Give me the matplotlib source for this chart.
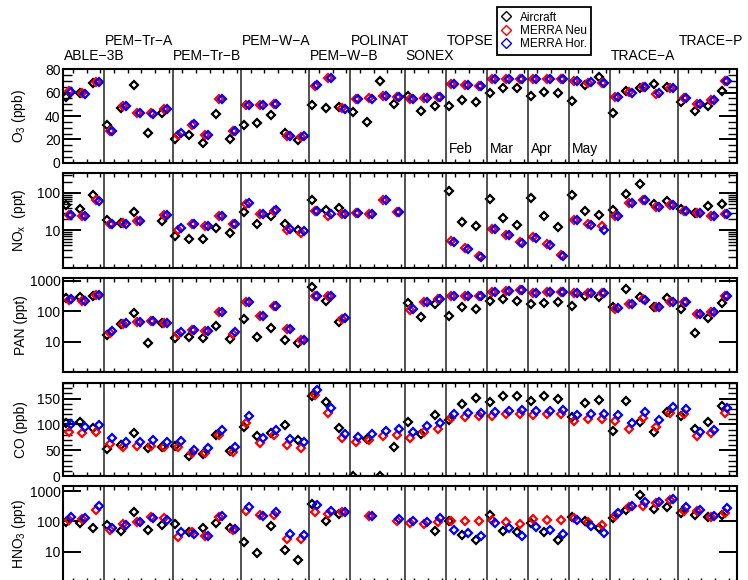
import numpy as np
import matplotlib
matplotlib.use('Agg')
import matplotlib.pyplot as plt
from matplotlib.lines import Line2D
from matplotlib import transforms
from matplotlib.ticker import FixedLocator, NullFormatter, LogLocator, MultipleLocator, FuncFormatter

plt.rcParams['font.family'] = ['Liberation Sans', 'DejaVu Sans']
plt.rcParams['mathtext.default'] = 'regular'

nan = np.nan

# campaigns along the x axis (one slot per flight-region average)
campaigns = ['ABLE−3B', 'PEM−Tr−A', 'PEM−Tr−B', 'PEM−W−A', 'PEM−W−B',
             'POLINAT', 'SONEX', 'TOPSE', 'TRACE−A', 'TRACE−P']
campaign_start = [0, 3, 8, 13, 18, 21, 25, 28, 40, 45]
campaign_row = [1, 0, 1, 0, 1, 0, 1, 0, 1, 0]
dividers = [3, 8, 13, 18, 21, 25, 28, 31, 34, 37, 40, 45]
months = ['Feb', 'Mar', 'Apr', 'May']
month_start = [28, 31, 34, 37]
n_slots = 49

o3_air = [56.0, 59.7, 68.3, 32.0, 47.1, 66.3, 25.2, 42.3, 20.6, 23.5, 16.6, 41.5, 20.6,
          32.0, 34.3, 40.9, 25.2, 19.4, 49.2, 46.6, 47.4, 43.7, 35.1, 70.0, 50.0,
          57.4, 44.3, 48.8, 48.6, 53.7, 52.0, 60.0, 63.7, 64.2, 57.4, 60.3, 59.4,
          53.1, 66.5, 73.1, 42.3, 61.7, 63.7, 67.1, 64.6, 52.2, 44.3, 48.8, 61.7]
o3_neu = [61.7, 59.4, 69.4, 27.4, 48.6, 42.8, 42.8, 45.7, 23.7, 32.3, 23.7, 54.3, 26.9,
          49.4, 49.4, 50.0, 23.1, 22.3, 65.7, 72.8, 46.6, 54.3, 55.2, 57.4, 56.0,
          54.6, 55.7, 56.5, 67.1, 66.5, 65.9, 71.7, 71.7, 71.4, 71.7, 71.9, 71.7,
          69.7, 68.0, 68.0, 56.0, 60.3, 64.6, 58.6, 64.2, 55.2, 50.0, 53.7, 70.0]
o3_hor = [60.8, 58.6, 68.9, 26.9, 48.6, 42.8, 42.0, 45.7, 25.2, 32.9, 24.0, 54.3, 27.4,
          49.4, 49.4, 50.0, 22.9, 22.6, 66.5, 72.8, 46.3, 54.3, 54.8, 57.4, 56.0,
          54.6, 55.7, 56.5, 67.1, 66.5, 65.9, 71.7, 71.7, 71.4, 71.7, 71.9, 71.7,
          69.7, 68.9, 68.0, 56.0, 59.7, 64.6, 59.4, 64.2, 55.2, 50.0, 53.7, 70.0]

nox_air = [49, 38, 87, 18.5, 16, 31, nan, 17.8, 7.3, 6.0, 6.0, 11.8, 8.5,
           31, 15, 24, 14.5, 10.4, 66.5, 34.5, 40.6, nan, nan, nan, nan,
           nan, nan, nan, 113, 16.7, 12.8, 70.5, 21.3, 14.2, 75.5, 24, 12.3,
           87, 33, 26.3, 34.5, 92, 169, 49.7, 60, 38, 29, 45, 52]
nox_neu = [26.3, 25, 63, 15, 15.5, 17.7, nan, 26, 10, 14.5, 13.1, 23.7, 15,
           52, 27, 32.4, 10, 8.5, 33, 24, 27, 29.8, 28, 66.5, 31,
           nan, nan, nan, 5.1, 3.35, 2.1, 11.1, 7.8, 4.9, 6.6, 4.4, 2.2,
           19.4, 15, 13.1, 25, 55, 66.5, 42, 49, 33, 29, 23.7, 28]
nox_hor = [26, 25, 61, 15, 15, 17.7, nan, 26, 11.8, 14.5, 13.1, 23.7, 15,
           55, 27, 35.6, 11, 9.4, 33, 27, 27, 29.8, 28, 66.5, 31,
           nan, nan, nan, 5.0, 3.3, 2.0, 10.8, 7.4, 4.6, 6.4, 4.2, 2.1,
           19.0, 14.3, 10.6, 25, 55, 66.5, 42, 49, 33, 29, 23.7, 28]

pan_air = [264, 285, 315, 16.6, 38, 85, 8.9, 40, 13.5, 14.6, 12.9, 33.5, 12.3,
           57, 13.9, 28, 11.4, 9.3, 630, 220, 45, nan, nan, nan, nan,
           181, 66, 170, 71, 134, 118, 215, 246, 220, 170, 190, 205,
           148, 315, 300, 141, 520, 300, 141, 264, 115, 19, 61, 181]
pan_neu = [234, 220, 340, 19.8, 38, 43, 48, 40, 17.5, 24, 22.4, 96, 17.9,
           196, 71, 148, 25.6, 11.4, 323, 323, 54, nan, nan, nan, nan,
           109, 196, 246, 323, 323, 323, 435, 470, 500, 405, 415, 435,
           385, 405, 405, 115, 170, 246, 141, 205, 205, 79, 96, 315]
pan_hor = [246, 212, 340, 22.4, 42, 43, 48, 40, 20.3, 24, 22.4, 96, 20,
           196, 71, 148, 25.6, 11.4, 323, 323, 58, nan, nan, nan, nan,
           118, 196, 246, 323, 323, 323, 435, 470, 500, 405, 415, 435,
           385, 405, 405, 124, 170, 236, 141, 205, 205, 79, 96, 315]

co_air = [103, 105, 92.3, 52.2, 60, 82.6, 53.6, 55.5, 58, 38.7, 42, 79.3, 48.4,
          95.4, 77.4, 83.8, 98.7, 69.7, 154.8, 142.6, 92.3, 0, 71, 0, 56.7,
          105, 80.7, 118, 108.4, 138.7, 150.3, 143.8, 155.4, 155.4, 145, 155.4, 148.4,
          114.8, 140.7, 147, 87.7, 145.7, 105, 85.7, 124.4, 116, 90.9, 103.9, 135.5]
co_neu = [85.7, 82.6, 85.7, 61.9, 55.5, 58.6, 58.6, 55.5, 56.7, 43.9, 45.1, 79.3, 47,
          103, 64.5, 79.3, 60, 54.8, 156.7, 121.3, 72.9, 65.2, 69.7, 77.4, 79.3,
          74.1, 85.7, 90.3, 112.8, 114.8, 116, 116.7, 120, 119.4, 118, 120, 120,
          107, 110.3, 110.3, 107, 90.3, 112.8, 95.4, 122.5, 120, 78, 82.6, 122.5]
co_hor = [100.6, 95.4, 98.7, 72.9, 65.2, 66.4, 69.7, 66.4, 67.7, 50.3, 53.6, 89, 56.7,
          116, 72.9, 89, 71, 65.2, 166.4, 131, 81.3, 76, 80.7, 87.7, 90.3,
          85.7, 96.8, 102, 120, 122.5, 122.5, 124.4, 126.4, 127.7, 125.8, 126.4, 127.7,
          118, 120, 120, 118, 102, 123.2, 108.4, 132.9, 129, 85.7, 89, 131]

hno3_air = [93, 88, 60, 77, 49, 200, 51, 77, 82, 43, 60, 88, 60,
            21.4, 9.1, 72, 11.2, 5.4, 385, 100, 177, nan, nan, nan, nan,
            nan, nan, 49, 105, 36, 23.6, 168, 49, 43, 86, 43, 23.6,
            144, 105, 60, 126, 242, 740, 261, 296, 186, 164, 144, 164]
hno3_neu = [111, 120, 242, 51, 82, 93, 144, 126, 31, 43, 33, 144, 51,
            217, 168, 168, 27, 27, 200, 177, 200, nan, 147, nan, 105,
            86, 82, 99, 105, 100, 100, 111, 99, 82, 120, 111, 111,
            126, 99, 77, 156, 296, 337, 405, 498, 217, 217, 136, 186]
hno3_hor = [144, 126, 337, 60, 76, 93, 126, 114, 43, 38, 33, 156, 55,
            296, 147, 200, 38, 35, 355, 229, 211, nan, 147, nan, 118,
            100, 93, 126, 51, 41, 33, 88, 60, 33, 66, 51, 38,
            111, 73, 41, 186, 337, 437, 437, 566, 296, 248, 147, 282]

panels = [
    ('O$_3$ (ppb)', o3_air, o3_neu, o3_hor, 'linear', (0, 80), [0, 20, 40, 60, 80], 5),
    ('NO$_x$  (ppt)', nox_air, nox_neu, nox_hor, 'log', (1, 340), [10, 100], None),
    ('PAN (ppt)', pan_air, pan_neu, pan_hor, 'log', (1, 1200), [10, 100, 1000], None),
    ('CO (ppb)', co_air, co_neu, co_hor, 'linear', (0, 180), [0, 50, 100, 150], 10),
    ('HNO$_3$ (ppt)', hno3_air, hno3_neu, hno3_hor, 'log', (1, 1500), [10, 100, 1000], None),
]
# axes boxes in pixels (top, bottom)
boxes = [(69.3, 162.7), (173, 268), (278.3, 372), (383, 476), (486, 581.7)]

W, H = 748, 580
fig = plt.figure(figsize=(W / 100, H / 100), dpi=100)
x0, x1 = 63.3, 737

series_style = [('k', 0.2), ('red', 0.4), ('blue', 0.6)]
slots = np.arange(n_slots)

axes = []
for (label, air, neu, hor, scale, ylim, yt, minor), (top, bot) in zip(panels, boxes):
    ax = fig.add_axes([x0 / W, 1 - bot / H, (x1 - x0) / W, (bot - top) / H])
    axes.append(ax)
    for vals, (c, off) in zip([air, neu, hor], series_style):
        ax.plot(slots + off, vals, ls='none', marker='D', mfc='none', mec=c,
                ms=4.2, mew=1.6)
    for d in dividers:
        ax.axvline(d, color='#222222', lw=1.1)
    ax.set_yscale(scale)
    ax.set_ylim(ylim)
    ax.set_xlim(0, 49.3)
    ax.set_yticks(yt)
    if scale == 'log':
        ax.yaxis.set_minor_locator(LogLocator(base=10, subs=np.arange(2, 10)))
        ax.yaxis.set_minor_formatter(NullFormatter())
        ax.yaxis.set_major_formatter(FuncFormatter(lambda v, p: '%d' % v))
    else:
        ax.yaxis.set_minor_locator(MultipleLocator(minor))
    ax.xaxis.set_major_locator(FixedLocator(slots + 0.7))
    ax.xaxis.set_major_formatter(NullFormatter())
    ax.tick_params(axis='x', which='both', direction='in', top=True, bottom=True,
                   length=3, width=1)
    ax.tick_params(axis='y', which='major', direction='in', left=True, right=True,
                   length=13, width=1.4, labelsize=10, pad=2)
    ax.tick_params(axis='y', which='minor', direction='in', left=True, right=True,
                   length=6.5, width=1)
    for s in ax.spines.values():
        s.set_linewidth(1.5)
    ax.set_ylabel(label, fontsize=10)
    ax.yaxis.set_label_coords(-0.052, 0.5)

# campaign names above the top panel
tr = transforms.blended_transform_factory(axes[0].transData, fig.transFigure)
for name, xs, row in zip(campaigns, campaign_start, campaign_row):
    yb = 1 - (45 if row == 0 else 60) / H
    axes[0].text(xs + 0.05, yb, name, transform=tr, fontsize=10, va='baseline',
                 ha='left', clip_on=False)

# TOPSE months inside the ozone panel
trm = transforms.blended_transform_factory(axes[0].transData, axes[0].transAxes)
for m, xs in zip(months, month_start):
    axes[0].text(xs + 0.2, 0.107, m, transform=trm, fontsize=10, va='baseline', ha='left')

handles = [Line2D([], [], ls='none', marker='D', mfc='none', mec=c, ms=4.8, mew=1)
           for c in ['k', 'red', 'blue']]
leg = fig.legend(handles, ['Aircraft', 'MERRA Neu', 'MERRA Hor.'], loc='upper left',
                 bbox_to_anchor=(497 / W, 1 - 7.5 / H), fontsize=8.5, frameon=True,
                 fancybox=False, edgecolor='k', framealpha=1, borderpad=0.35,
                 labelspacing=0.12, handlelength=0.8, handletextpad=0.8,
                 borderaxespad=0)
leg.get_frame().set_linewidth(1.3)

fig.savefig('out.png', dpi=100)
